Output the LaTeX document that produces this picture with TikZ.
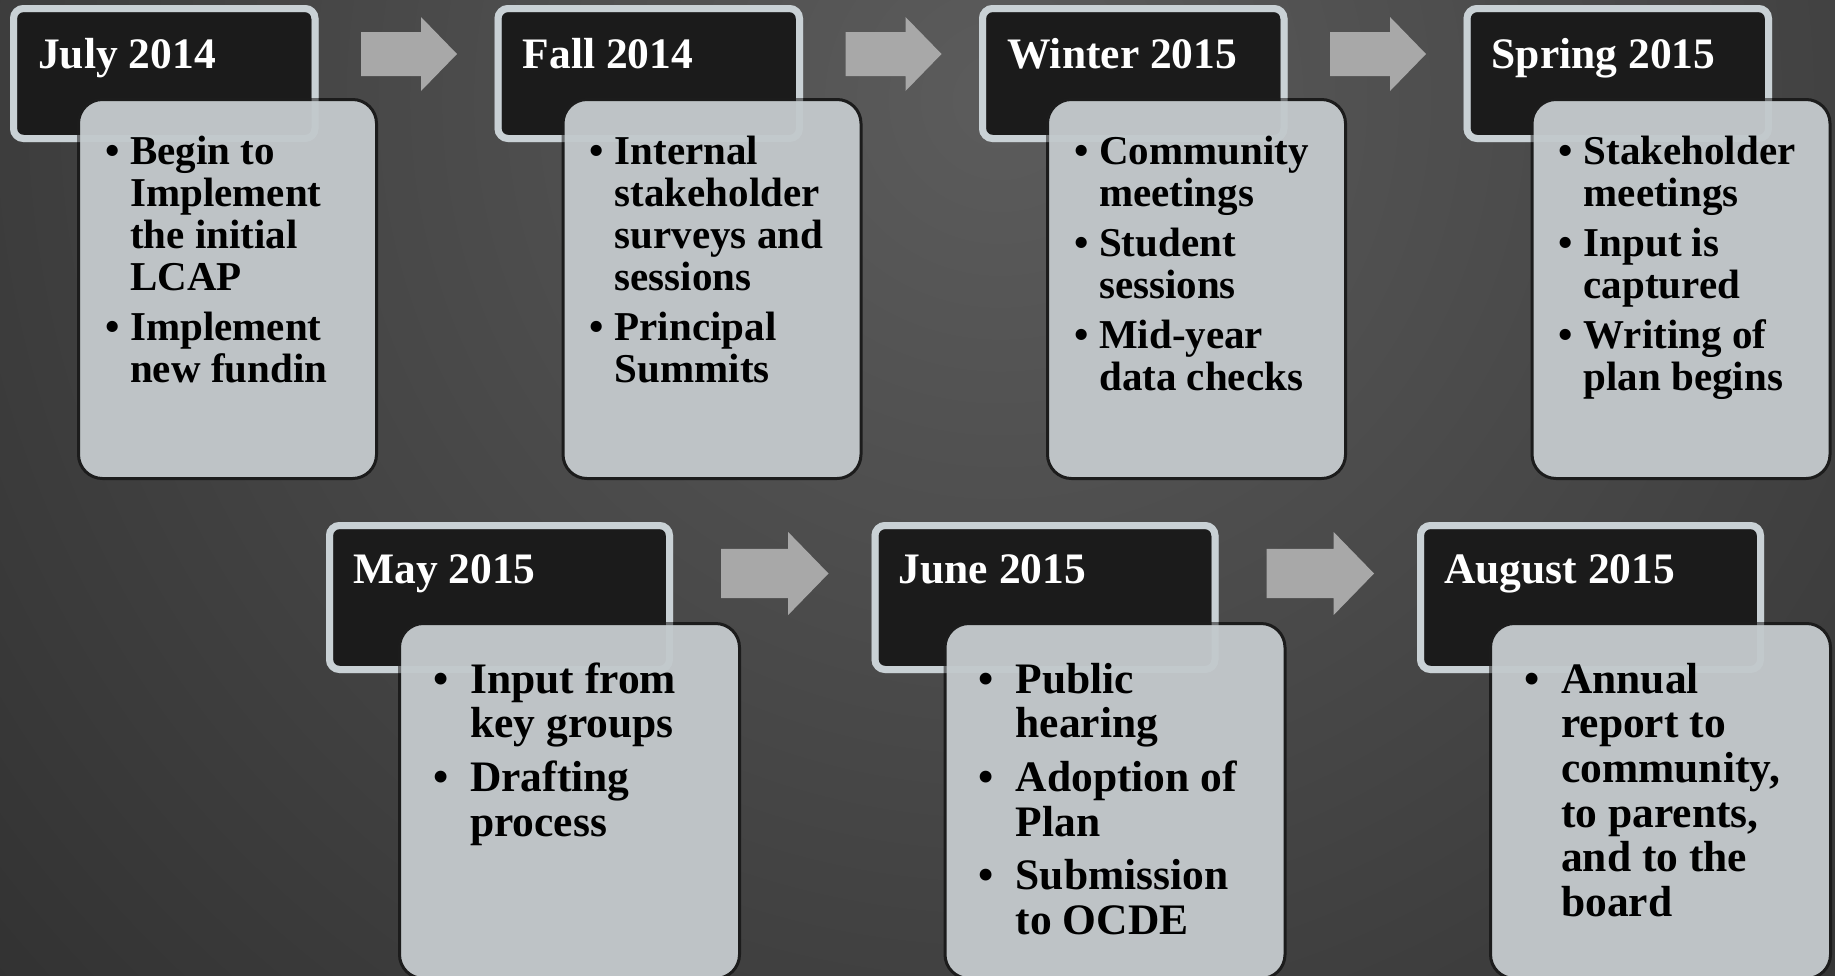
\documentclass[tikz,border=0pt]{standalone}
\usepackage{fontspec}
\setmainfont{Liberation Serif}
\usetikzlibrary{calc}

\definecolor{bgin}{HTML}{5C5C5C}
\definecolor{bgout}{HTML}{222222}
\definecolor{titlefill}{HTML}{1B1B1B}
\definecolor{titleedge}{HTML}{C9D1D5}
\definecolor{cardfill}{HTML}{BEC3C6}
\definecolor{cardedge}{HTML}{1C1C1C}
\definecolor{arrowfill}{HTML}{A8A8A8}

% bullet set in a fixed-width box so the item text lines up
\newcommand{\bul}[1]{\makebox[#1][l]{\textbullet}}
\newcommand{\tb}{\bul{25bp}}
\newcommand{\lb}{\bul{37bp}}

\tikzset{
  titlebox/.style={rectangle, draw=titleedge, fill=titlefill, line width=7bp,
    rounded corners=10bp, inner sep=0pt, outer sep=0pt, anchor=north west},
  toptitle/.style={titlebox, minimum width=301.5bp, minimum height=130bp},
  lowtitle/.style={titlebox, minimum width=340bp, minimum height=144bp},
  card/.style={rectangle, draw=cardedge, fill=cardfill, line width=3bp,
    rounded corners=24bp, inner sep=0pt, outer sep=0pt, anchor=north west},
  topcard/.style={card, minimum width=298bp, minimum height=379bp},
  lowcard/.style={card, minimum width=340bp, minimum height=355bp},
  overedge/.style={draw=titleedge, line width=7bp, rounded corners=10bp, opacity=0.45},
  datetext/.style={text=white, font=\bfseries\fontsize{43.5bp}{46bp}\selectfont,
    inner sep=0pt, anchor=base west},
  toplist/.style={text=black, font=\bfseries\fontsize{41bp}{42bp}\selectfont,
    inner sep=0pt, anchor=base west},
  lowlist/.style={text=black, font=\bfseries\fontsize{43.5bp}{44.7bp}\selectfont,
    inner sep=0pt, anchor=base west},
  pics/blockarrow/.style={code={
    \fill[arrowfill] (0,-22) -- (60,-22) -- (60,-37) -- (96,0) -- (60,37)
      -- (60,22) -- (0,22) -- cycle;}}
}

\begin{document}
\begin{tikzpicture}[x=1bp, y=-1bp]
\useasboundingbox (0,0) rectangle (1835,975);

% background
\begin{scope}
  \clip (0,0) rectangle (1835,975);
  \shade[inner color=bgin, outer color=bgout] (1000,100) circle (1850bp);
\end{scope}

% ---------- top row ----------
% July 2014
\node[toptitle] (t1) at (13.5,8.5) {};
\node[topcard] (c1) at (78.5,99.5) {};
\draw[overedge] (t1.north west) rectangle (t1.south east);
\node[datetext] (l1) at (38,68) {July 2014};
\node[toplist] (d1) at (105,164) {\begin{tabular}[t]{@{}l@{}l@{}}
  \tb & Begin to\\ & Implement\\ & the initial\\ & LCAP\\[8bp]
  \tb & Implement\\ & new fundin\end{tabular}};
\pic at (361,54) {blockarrow};

% Fall 2014
\node[toptitle] (t2) at (498,8.5) {};
\node[topcard] (c2) at (563,99.5) {};
\draw[overedge] (t2.north west) rectangle (t2.south east);
\node[datetext] (l2) at (522.5,68) {Fall 2014};
\node[toplist] (d2) at (589.5,164) {\begin{tabular}[t]{@{}l@{}l@{}}
  \tb & Internal\\ & stakeholder\\ & surveys and\\ & sessions\\[8bp]
  \tb & Principal\\ & Summits\end{tabular}};
\pic at (845.5,54) {blockarrow};

% Winter 2015
\node[toptitle] (t3) at (982.5,8.5) {};
\node[topcard] (c3) at (1047.5,99.5) {};
\draw[overedge] (t3.north west) rectangle (t3.south east);
\node[datetext] (l3) at (1007,68) {Winter 2015};
\node[toplist] (d3) at (1074,164) {\begin{tabular}[t]{@{}l@{}l@{}}
  \tb & Community\\ & meetings\\[8bp]
  \tb & Student\\ & sessions\\[8bp]
  \tb & Mid-year\\ & data checks\end{tabular}};
\pic at (1330,54) {blockarrow};

% Spring 2015
\node[toptitle] (t4) at (1467,8.5) {};
\node[topcard] (c4) at (1532,99.5) {};
\draw[overedge] (t4.north west) rectangle (t4.south east);
\node[datetext] (l4) at (1491.5,68) {Spring 2015};
\node[toplist] (d4) at (1558.5,164) {\begin{tabular}[t]{@{}l@{}l@{}}
  \tb & Stakeholder\\ & meetings\\[8bp]
  \tb & Input is\\ & captured\\[8bp]
  \tb & Writing of\\ & plan begins\end{tabular}};

% ---------- bottom row ----------
% May 2015
\node[lowtitle] (t5) at (329.5,525.5) {};
\node[lowcard] (c5) at (399.5,623.5) {};
\draw[overedge] (t5.north west) rectangle (t5.south east);
\node[datetext] (l5) at (353,583) {May 2015};
\node[lowlist] (d5) at (433,693) {\begin{tabular}[t]{@{}l@{}l@{}}
  \lb & Input from\\ & key groups\\[9bp]
  \lb & Drafting\\ & process\end{tabular}};
\pic[scale=1.12] at (721,573.5) {blockarrow};

% June 2015
\node[lowtitle] (t6) at (875,525.5) {};
\node[lowcard] (c6) at (945,623.5) {};
\draw[overedge] (t6.north west) rectangle (t6.south east);
\node[datetext] (l6) at (898.5,583) {June 2015};
\node[lowlist] (d6) at (978.5,693) {\begin{tabular}[t]{@{}l@{}l@{}}
  \lb & Public\\ & hearing\\[9bp]
  \lb & Adoption of\\ & Plan\\[9bp]
  \lb & Submission\\ & to OCDE\end{tabular}};
\pic[scale=1.12] at (1266.5,573.5) {blockarrow};

% August 2015
\node[lowtitle] (t7) at (1420.5,525.5) {};
\node[lowcard] (c7) at (1490.5,623.5) {};
\draw[overedge] (t7.north west) rectangle (t7.south east);
\node[datetext] (l7) at (1444,583) {August 2015};
\node[lowlist] (d7) at (1524,693) {\begin{tabular}[t]{@{}l@{}l@{}}
  \lb & Annual\\ & report to\\ & community,\\ & to parents,\\ & and to the\\ & board\end{tabular}};

\end{tikzpicture}
\end{document}
